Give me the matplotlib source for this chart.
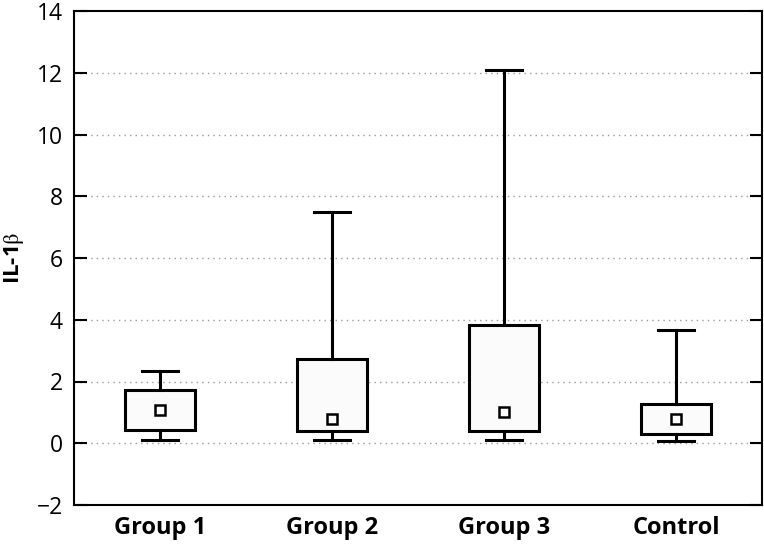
import matplotlib
matplotlib.use("Agg")
import matplotlib.pyplot as plt

plt.rcParams["font.family"] = ["Open Sans", "DejaVu Sans"]
plt.rcParams["mathtext.fontset"] = "stix"

# valeurs
groups = ["Group 1", "Group 2", "Group 3", "Control"]
whislo = [0.09, 0.10, 0.12, 0.08]
q1 = [0.42, 0.41, 0.39, 0.30]
med = [1.07, 0.80, 1.00, 0.79]
q3 = [1.71, 2.74, 3.84, 1.27]
whishi = [2.35, 7.49, 12.09, 3.68]

LW = 2.2
pos = [1, 2, 3, 4]
stats = [dict(label=g, whislo=a, q1=b, med=c, q3=d, whishi=e, fliers=[])
         for g, a, b, c, d, e in zip(groups, whislo, q1, med, q3, whishi)]

fig = plt.figure(figsize=(7.64, 5.48), dpi=100)
ax = fig.add_axes([74 / 764, 1 - 505 / 548, 688 / 764, 494 / 548])

ax.bxp(stats, positions=pos, widths=0.41, showfliers=False,
       patch_artist=True,
       boxprops=dict(facecolor="#fbfbfb", edgecolor="black", linewidth=LW),
       whiskerprops=dict(color="black", linewidth=LW),
       capprops=dict(color="black", linewidth=LW),
       capwidths=0.21,
       medianprops=dict(linestyle="none"))
# médiane : petit carré
ax.plot(pos, med, linestyle="none", marker="s", markersize=6.5,
        markerfacecolor="white", markeredgecolor="black", markeredgewidth=1.8,
        zorder=5)

# grille pointillée
for y in range(0, 14, 2):
    ax.axhline(y, color="#999999", linestyle=(0, (1, 3)), linewidth=1.0, zorder=0)

ax.set_xlim(0.5, 4.5)
ax.set_ylim(-2, 14)
ax.set_yticks(range(-2, 15, 2))
ax.set_yticklabels([str(v).replace("-", "\u2212") for v in range(-2, 15, 2)])
ax.set_xticks(pos)
ax.set_xticklabels(groups, fontweight="bold")
ax.tick_params(axis="y", direction="in", length=9, width=1.5, labelsize=16.5,
               right=True, pad=8)
ax.tick_params(axis="x", length=0, labelsize=17, pad=8)
for s in ax.spines.values():
    s.set_linewidth(1.5)

ax.set_ylabel(r"IL-1$\mathrm{\beta}$", fontsize=16, fontweight="bold")
ax.yaxis.set_label_coords(-0.07, 0.5)

fig.savefig("out.png", dpi=100)
